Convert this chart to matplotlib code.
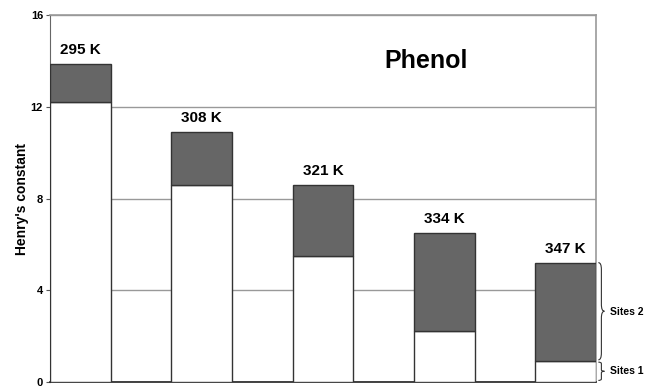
import numpy as np
import matplotlib
matplotlib.use('Agg')
import matplotlib.pyplot as plt
from matplotlib.path import Path
from matplotlib.patches import PathPatch

plt.rcParams['font.family'] = ['Liberation Sans', 'DejaVu Sans']

temps = ['295 K', '308 K', '321 K', '334 K', '347 K']
sites1 = [12.2, 8.6, 5.5, 2.2, 0.9]
totals = [13.9, 10.9, 8.6, 6.5, 5.2]
sites2 = [t - s for t, s in zip(totals, sites1)]

fig = plt.figure(figsize=(6.53, 3.87), dpi=100)
ax = fig.add_axes([0.0766, 0.014, 0.836, 0.946])

x = np.arange(len(temps))
ax.bar(x, sites1, width=0.5, align='edge', color='white',
       edgecolor='#333333', linewidth=1.0, zorder=3)
ax.bar(x, sites2, bottom=sites1, width=0.5, align='edge', color='#666666',
       edgecolor='#333333', linewidth=1.0, zorder=3)

for xi, t, lab in zip(x, totals, temps):
    ax.text(xi + 0.25, t + 0.3, lab, ha='center', va='bottom',
            fontsize=11, fontweight='bold')

ax.set_xlim(0, 4.5)
ax.set_ylim(0, 16)
ax.set_yticks([0, 4, 8, 12, 16])
ax.set_xticks([])
ax.tick_params(axis='y', labelsize=8, length=3, color='#555555', pad=2)
for lab in ax.get_yticklabels():
    lab.set_fontweight('bold')
ax.yaxis.grid(True, color='#999999', linewidth=1.0, zorder=0)

for side in ['top', 'right']:
    ax.spines[side].set_color('#999999')
    ax.spines[side].set_linewidth(1.2)
ax.spines['left'].set_color('#666666')
ax.spines['bottom'].set_color('#222222')
ax.spines['bottom'].set_linewidth(1.2)

ax.set_ylabel("Henry's constant", fontsize=10, fontweight='bold', labelpad=1)
ax.text(3.1, 14.0, 'Phenol', ha='center', va='center',
        fontsize=18, fontweight='bold')


def curly(ax, xpos, y0, y1, w=0.05):
    # right-facing curly brace from y0 to y1, drawn outside the axes
    h = y1 - y0
    r = min(0.08 * h, 0.3)
    ym = (y0 + y1) / 2
    xa, xm, xt = xpos, xpos + w / 2, xpos + w
    verts = [(xa, y0), (xm, y0), (xm, y0 + r),
             (xm, ym - r),
             (xm, ym), (xt, ym),
             (xm, ym), (xm, ym + r),
             (xm, y1 - r),
             (xm, y1), (xa, y1)]
    codes = [Path.MOVETO, Path.CURVE3, Path.CURVE3,
             Path.LINETO,
             Path.CURVE3, Path.CURVE3,
             Path.CURVE3, Path.CURVE3,
             Path.LINETO,
             Path.CURVE3, Path.CURVE3]
    ax.add_patch(PathPatch(Path(verts, codes), facecolor='none',
                           edgecolor='#333333', linewidth=0.8, clip_on=False))


curly(ax, 4.52, 0.05, sites1[-1] - 0.05)
curly(ax, 4.52, sites1[-1] + 0.05, totals[-1])
ax.text(4.62, sites1[-1] / 2, 'Sites 1', ha='left', va='center',
        fontsize=7.5, fontweight='bold')
ax.text(4.62, (sites1[-1] + totals[-1]) / 2, 'Sites 2', ha='left',
        va='center', fontsize=7.5, fontweight='bold')

fig.savefig('out.png', dpi=100)
